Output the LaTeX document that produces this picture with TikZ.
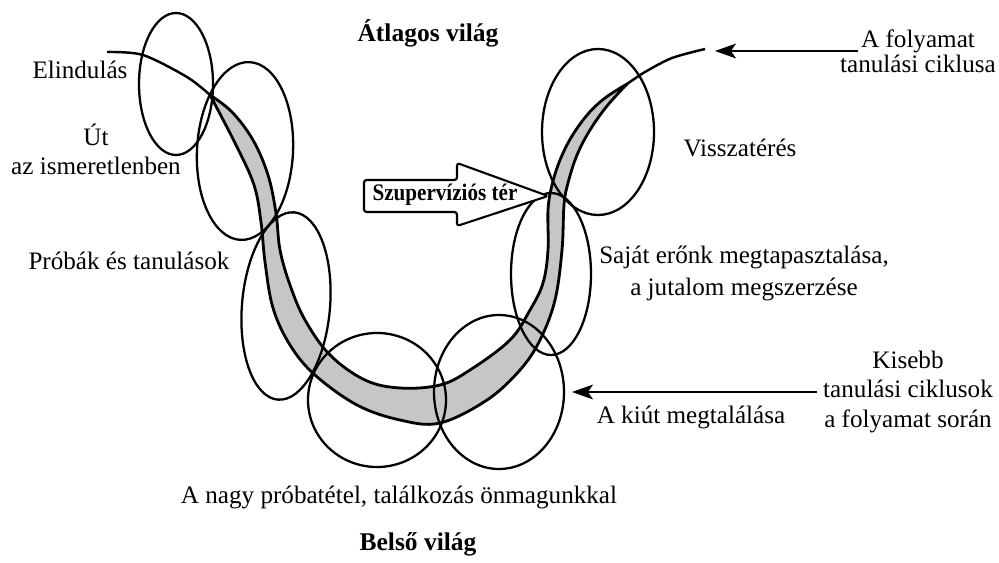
\documentclass[tikz,border=0pt]{standalone}
\usepackage{fontspec}
\setmainfont{Liberation Serif}
\usetikzlibrary{arrows.meta}
\definecolor{bandgray}{RGB}{198,198,198}
\begin{document}
\begin{tikzpicture}[x=0.02cm,y=-0.02cm,
  txt/.style={font=\fontsize{14.3}{17}\selectfont, inner sep=0pt},
  btxt/.style={font=\fontsize{14.5}{17}\selectfont\bfseries, inner sep=0pt},
  ring/.style={draw=black, line width=1.3pt},
  pointer/.style={-{Stealth[length=12pt,width=8.5pt,inset=3pt]}, line width=0.8pt}]
\useasboundingbox (0,0) rectangle (999,563);

% band
\filldraw[fill=bandgray, draw=black, line width=1.6pt, line join=round]
  plot[smooth, tension=0.6] coordinates {(210,95) (236,145) (254,185) (261,222) (265,262) (273,308) (290,345) (315,375) (357,405) (400,420) (440,423) (487,400) (520,370) (540,340) (555,300) (562,250) (564,205) (568,183) (577,155) (590,130) (607,106) (627,84)}
  -- plot[smooth, tension=0.6] coordinates {(627,84) (605,98) (588,114) (572,136) (560,160) (552,185) (548,210) (548,250) (543,283) (530,310) (510,340) (470,370) (440,385) (400,388) (365,380) (330,355) (305,320) (290,285) (280,250) (276,213) (268,175) (253,140) (232,112) (210,95)}
  -- cycle;
\draw[line width=1.4pt] plot[smooth] coordinates {(107,52) (143,55) (187,77) (210,95)};
\draw[line width=1.4pt] plot[smooth] coordinates {(627,84) (645,72) (672,58) (705,49)};

% rings
\draw[ring] (176,84) ellipse [x radius=37, y radius=71];
\draw[ring, rotate around={-3:(245,151)}] (245,151) ellipse [x radius=48, y radius=89];
\draw[ring, rotate around={-5:(286,306)}] (286,306) ellipse [x radius=44, y radius=94];
\draw[ring] (377,400) ellipse [x radius=69, y radius=67];
\draw[ring] (499,392) ellipse [x radius=65, y radius=77];
\draw[ring] (551,274) ellipse [x radius=40, y radius=81];
\draw[ring] (598,132) ellipse [x radius=56, y radius=83];

% supervision arrow
\draw[line width=1.2pt, fill=white, rounded corners=1.5pt, line join=round]
  (364,180) -- (457,180) -- (457,163) -- (548,196) -- (457,226) -- (457,212) -- (364,212) -- cycle;
\node[inner sep=0pt, anchor=base] (szup) at (445,201) {\scalebox{0.89}[1]{\fontsize{13.5}{15}\selectfont\bfseries Szupervíziós tér}};

% labels
\node[btxt, anchor=base] (atlagos) at (428,42) {Átlagos világ};
\node[btxt, anchor=base] (belso) at (418,550) {Belső világ};
\node[txt, anchor=base] (elind) at (80,79) {Elindulás};
\node[txt, align=center, anchor=base] (ut) at (96,175) {Út\\az ismeretlenben};
\node[txt, anchor=base] (probak) at (129,270) {Próbák és tanulások};
\node[txt, anchor=base] (nagy) at (399,503) {A nagy próbatétel, találkozás önmagunkkal};
\node[txt, anchor=base] (vissza) at (740,157) {Visszatérés};
\node[txt, align=center, anchor=base, font=\fontsize{14.3}{18.7}\selectfont] (sajat) at (744,296) {Saját erőnk megtapasztalása,\\a jutalom megszerzése};
\node[txt, anchor=base] (kiut) at (691,423) {A kiút megtalálása};
\node[txt, align=center, anchor=base, font=\fontsize{14.3}{16.7}\selectfont] (kisebb) at (908,427) {Kisebb\\tanulási ciklusok\\a folyamat során};
\node[txt, align=center, anchor=base, font=\fontsize{14.3}{14.7}\selectfont] (folyamat) at (918,73) {A folyamat\\tanulási ciklusa};

% pointers
\coordinate (tA) at (858,51);
\coordinate (tB) at (715,51);
\draw[pointer] (tA) -- (tB);
\coordinate (bA) at (817,392);
\coordinate (bB) at (572,392);
\draw[pointer] (bA) -- (bB);
\end{tikzpicture}
\end{document}
